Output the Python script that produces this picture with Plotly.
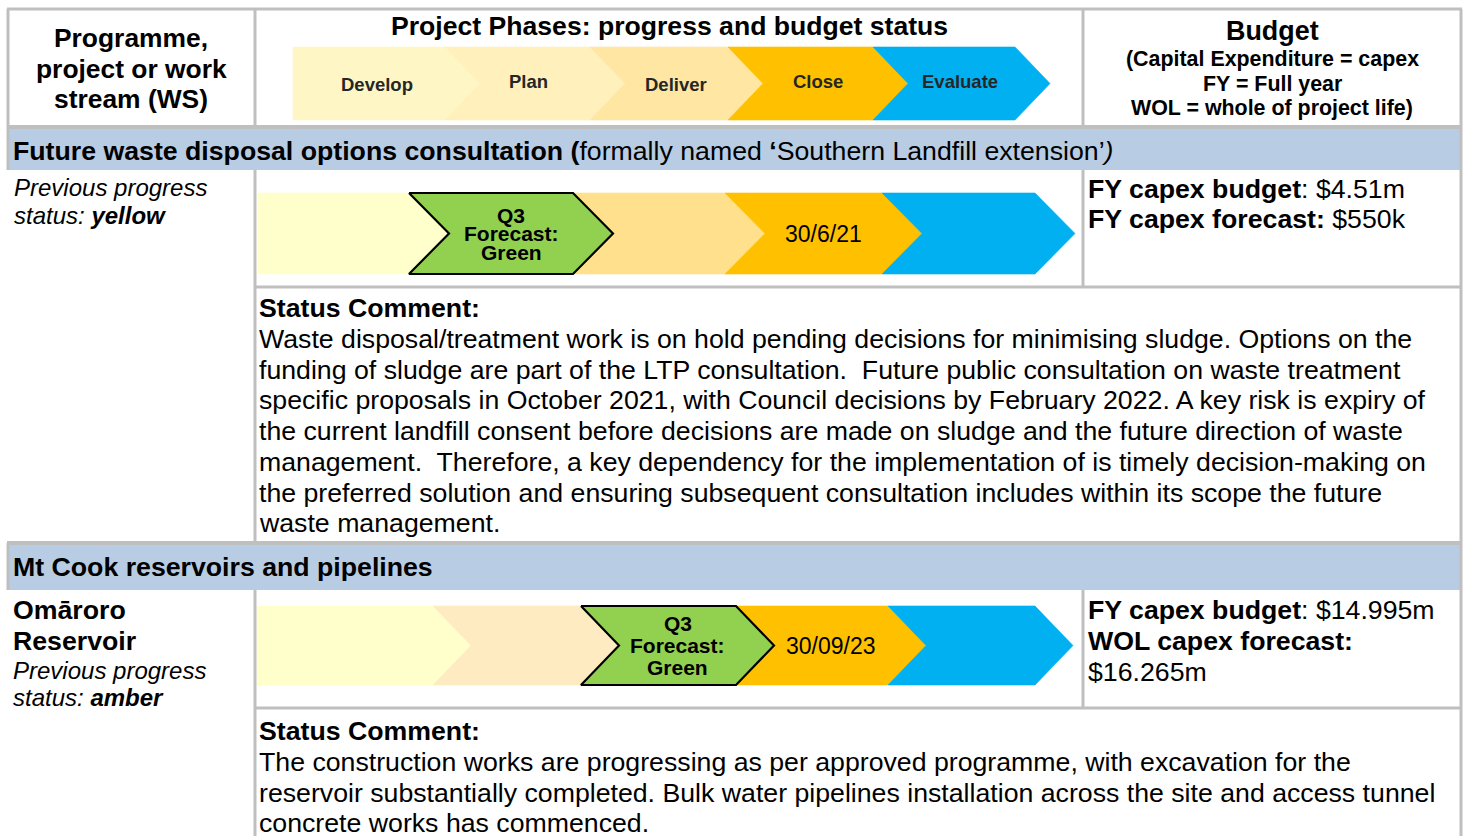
import plotly.graph_objects as go

# ---------------- data ----------------
phases = ["Develop", "Plan", "Deliver", "Close", "Evaluate"]
header_colors = ["#FFF6C6", "#FFF0BC", "#FFE6A2", "#FFC000", "#00B0F0"]

project_titles = [
    "<b>Future waste disposal options consultation (</b>formally named <b>‘</b>Southern Landfill extension’<i>)</i>",
    "<b>Mt Cook reservoirs and pipelines</b>",
]
p1_colors = ["#FFFFCC", "#92D050", "#FFE08C", "#FFC000", "#00B0F0"]
p1_labels = ["", ["Q3", "Forecast:", "Green"], "", "30/6/21", ""]
p2_colors = ["#FFFFCC", "#FFEBC2", "#92D050", "#FFC000", "#00B0F0"]
p2_labels = ["", "", ["Q3", "Forecast:", "Green"], "30/09/23", ""]

p1_left = ["<i>Previous progress</i>", "<i>status: <b>yellow</b></i>"]
p2_left_bold = ["<b>Omāroro</b>", "<b>Reservoir</b>"]
p2_left = ["<i>Previous progress</i>", "<i>status: <b>amber</b></i>"]

p1_budget = ["<b>FY capex budget</b>: $4.51m", "<b>FY capex forecast:</b> $550k"]
p2_budget = ["<b>FY capex budget</b>: $14.995m", "<b>WOL capex forecast:</b>", "$16.265m"]

p1_comment = [
    "Waste disposal/treatment work is on hold pending decisions for minimising sludge. Options on the",
    "funding of sludge are part of the LTP consultation.  Future public consultation on waste treatment",
    "specific proposals in October 2021, with Council decisions by February 2022. A key risk is expiry of",
    "the current landfill consent before decisions are made on sludge and the future direction of waste",
    "management.  Therefore, a key dependency for the implementation of is timely decision-making on",
    "the preferred solution and ensuring subsequent consultation includes within its scope the future",
    "waste management.",
]
p2_comment = [
    "The construction works are progressing as per approved programme, with excavation for the",
    "reservoir substantially completed. Bulk water pipelines installation across the site and access tunnel",
    "concrete works has commenced.",
]

header_left = ["Programme,", "project or work", "stream (WS)"]
header_mid = "Project Phases: progress and budget status"
header_budget = ["(Capital Expenditure = capex", "FY = Full year", "WOL = whole of project life)"]

# ---------------- layout geometry ----------------
W, H = 1464, 836
FONT = "Arial, Liberation Sans, sans-serif"
GRAY = "#BFBFBF"
SECTION = "#B8CCE4"
FS = 26.7

fig = go.Figure()


def chevron_trace(L, R, T, B, d, color, first, outline=None):
    M = (T + B) / 2
    if first:
        xs = [L, R, R + d, R, L, L]
        ys = [T, T, M, B, B, T]
    else:
        xs = [L, R, R + d, R, L, L + d, L]
        ys = [T, T, M, B, B, M, T]
    fig.add_trace(go.Scatter(
        x=xs, y=ys, mode="lines", fill="toself", fillcolor=color,
        line=dict(color=outline if outline else color, width=2.2 if outline else 0.6),
        hoverinfo="skip", showlegend=False))


def ann(x, y, text, size, anchor="left", color="black"):
    fig.add_annotation(x=x, y=y, xref="x", yref="y", text=text, showarrow=False,
                       xanchor=anchor, yanchor="middle", borderpad=0,
                       font=dict(family=FONT, size=size, color=color))


shapes = []


def rect(x0, y0, x1, y1, color):
    shapes.append(dict(type="rect", xref="x", yref="y", x0=x0, y0=y0, x1=x1, y1=y1,
                       fillcolor=color, line=dict(width=0), layer="below"))


def line(x0, y0, x1, y1, w=3):
    shapes.append(dict(type="line", xref="x", yref="y", x0=x0, y0=y0, x1=x1, y1=y1,
                       line=dict(color=GRAY, width=w), layer="above"))


# section backgrounds
rect(9, 128, 1461, 170, SECTION)
rect(9, 545, 1461, 590, SECTION)

# borders
line(7, 9, 1462, 9)
line(8, 9, 8, 170)
line(255, 9, 255, 127)
line(1083, 9, 1083, 127)
line(1461, 9, 1461, 836)
line(7, 127, 1462, 127, 4)
line(255, 170, 255, 543)
line(1083, 170, 1083, 287)
line(255, 287, 1461, 287)
line(7, 543, 1462, 543, 4)
line(8, 543, 8, 590)
line(255, 590, 255, 836)
line(1083, 590, 1083, 708)
line(255, 708, 1461, 708)


def draw_row(bounds, colors, T, B, d, labels, green_sizes):
    green_idx = None
    for i, c in enumerate(colors):
        if c == "#92D050":
            green_idx = i
            continue
        chevron_trace(bounds[i], bounds[i + 1], T, B, d, c, i == 0)
    if green_idx is not None:
        i = green_idx
        chevron_trace(bounds[i], bounds[i + 1], T, B, d, "#92D050", i == 0, outline="black")
    M = (T + B) / 2
    for i, lab in enumerate(labels):
        if not lab:
            continue
        cx = (bounds[i] + bounds[i + 1]) / 2 + d / 2
        if isinstance(lab, list):
            step, size = green_sizes
            for k, t in enumerate(lab):
                ann(cx, M + (k - 1) * step, "<b>%s</b>" % t, size, "center")
        else:
            ann(cx, M, lab, 23, "center")


# header chevrons
hb = [293, 445, 590, 728, 873, 1015]
for i, c in enumerate(header_colors):
    chevron_trace(hb[i], hb[i + 1], 47, 120, 35, c, i == 0)
head_lab_y = [84, 81, 84, 81, 81]
head_lab_x = [377, 528, 676, 818, 960]
for i, p in enumerate(phases):
    ann(head_lab_x[i], head_lab_y[i], "<b>%s</b>" % p, 18.5, "center", "#262626")

# project rows
draw_row([258, 409, 573, 725, 882, 1035], p1_colors, 193, 274, 40, p1_labels, (18.5, 21))
draw_row([257, 433, 581, 736, 888, 1035], p2_colors, 606, 685, 38, p2_labels, (22, 21))

# header texts
for k, t in enumerate(header_left):
    ann(131, 38 + k * 30.5, "<b>%s</b>" % t, 26.4, "center")
ann(669, 26, "<b>%s</b>" % header_mid, 26.6, "center")
ann(1272, 31, "<b>Budget</b>", 26.9, "center")
for k, t in enumerate(header_budget):
    ann(1272, 59 + k * 24.5, "<b>%s</b>" % t, 21.4, "center")

# section titles
ann(12, 151, project_titles[0], FS)
ann(12, 567, project_titles[1], FS)

# left column
for k, t in enumerate(p1_left):
    ann(13, 187 + k * 28, t, 24)
for k, t in enumerate(p2_left_bold):
    ann(12, 610 + k * 31, t, FS)
for k, t in enumerate(p2_left):
    ann(12, 670 + k * 27.5, t, 24)

# budgets
for k, t in enumerate(p1_budget):
    ann(1087, 189 + k * 30, t, FS)
for k, t in enumerate(p2_budget):
    ann(1087, 610 + k * 31, t, FS)

# comments
ann(258, 308, "<b>Status Comment:</b>", FS)
for k, t in enumerate(p1_comment):
    ann(258, 339 + k * 30.7, t, FS)
ann(258, 731, "<b>Status Comment:</b>", FS)
for k, t in enumerate(p2_comment):
    ann(258, 762 + k * 30.7, t, FS)

fig.update_layout(
    width=W, height=H, margin=dict(l=0, r=0, t=0, b=0),
    paper_bgcolor="white", plot_bgcolor="white",
    xaxis=dict(range=[0, W], visible=False, fixedrange=True),
    yaxis=dict(range=[H, 0], visible=False, fixedrange=True),
    shapes=shapes, showlegend=False,
)
fig.write_html(
    "out.html",
    config={"displayModeBar": False},
    post_script="document.body.style.margin='0';document.body.style.overflow='hidden';",
)
